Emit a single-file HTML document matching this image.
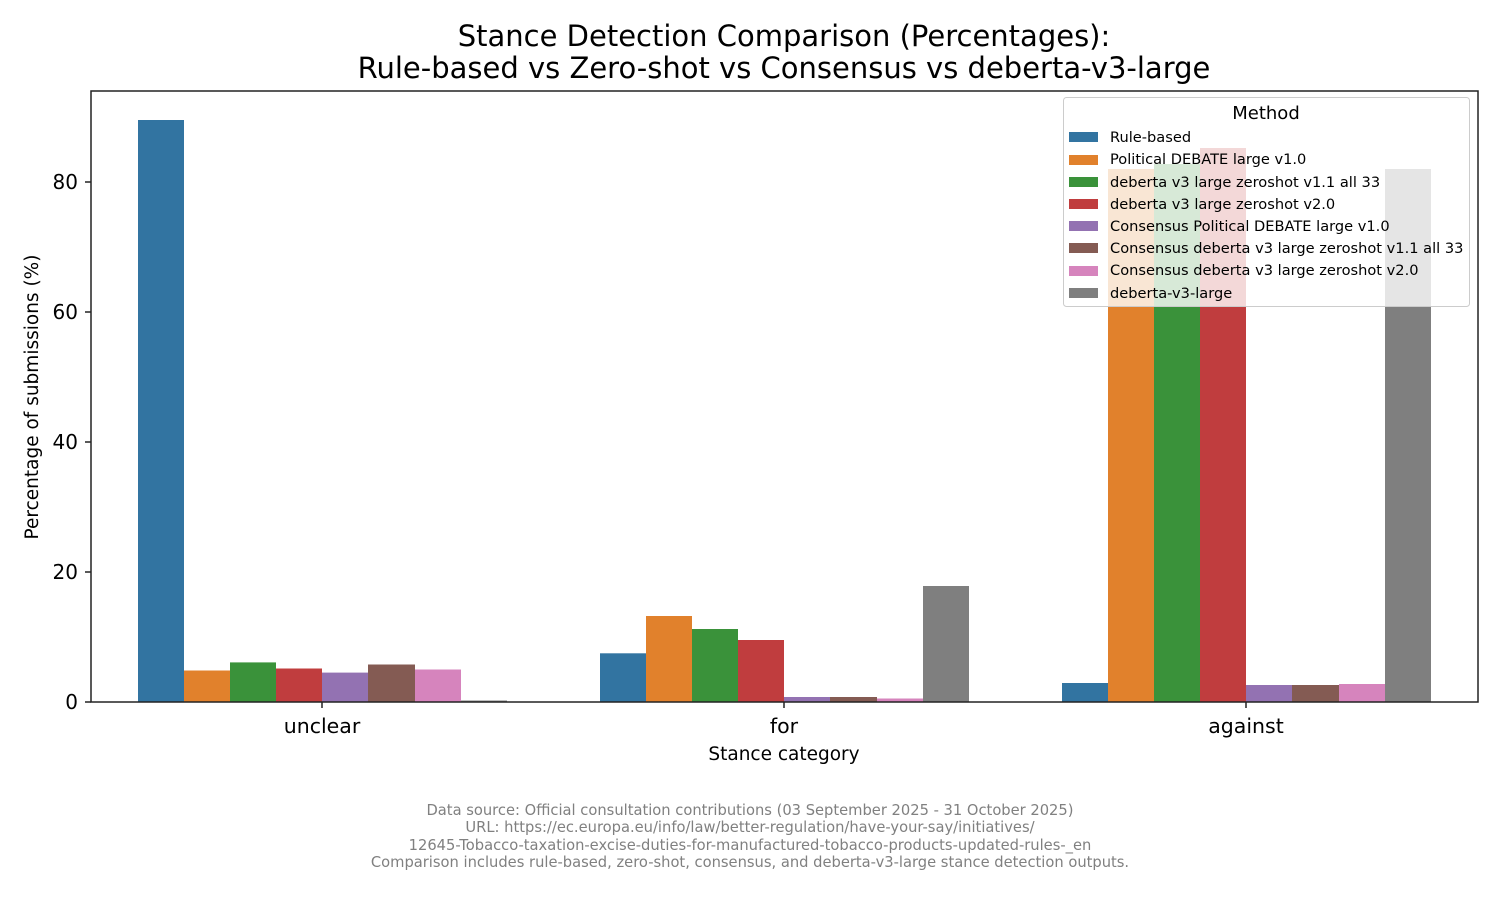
<!DOCTYPE html>
<html><head><meta charset="utf-8"><style>body{margin:0;background:#fff}svg{display:block}</style></head><body>
<svg width="1500" height="900" xmlns="http://www.w3.org/2000/svg" font-family="'DejaVu Sans','Liberation Sans',sans-serif">
<rect width="1500" height="900" fill="#fff"/>
<text x="784" y="46" font-size="29" text-anchor="middle" fill="#000">Stance Detection Comparison (Percentages):</text>
<text x="784" y="78" font-size="29" text-anchor="middle" fill="#000">Rule-based vs Zero-shot vs Consensus vs deberta-v3-large</text>
<g id="bars">
<rect x="138" y="120" width="46" height="582" fill="#3274a1"/>
<rect x="184" y="670.5" width="46" height="31.5" fill="#e1812c"/>
<rect x="230" y="662.4" width="46" height="39.6" fill="#3a923a"/>
<rect x="276" y="668.5" width="46" height="33.5" fill="#c03d3e"/>
<rect x="322" y="672.6" width="46" height="29.4" fill="#9372b2"/>
<rect x="368" y="664.5" width="47" height="37.5" fill="#845b53"/>
<rect x="415" y="669.5" width="46" height="32.5" fill="#d684bd"/>
<rect x="461" y="700.5" width="46" height="1.5" fill="#7f7f7f"/>
<rect x="600" y="653.3" width="46" height="48.7" fill="#3274a1"/>
<rect x="646" y="616" width="46" height="86" fill="#e1812c"/>
<rect x="692" y="629" width="46" height="73" fill="#3a923a"/>
<rect x="738" y="640" width="46" height="62" fill="#c03d3e"/>
<rect x="784" y="697" width="46" height="5" fill="#9372b2"/>
<rect x="830" y="697" width="47" height="5" fill="#845b53"/>
<rect x="877" y="698.5" width="46" height="3.5" fill="#d684bd"/>
<rect x="923" y="586" width="46" height="116" fill="#7f7f7f"/>
<rect x="1062" y="683" width="46" height="19" fill="#3274a1"/>
<rect x="1108" y="169" width="46" height="533" fill="#e1812c"/>
<rect x="1154" y="164" width="46" height="538" fill="#3a923a"/>
<rect x="1200" y="148" width="46" height="554" fill="#c03d3e"/>
<rect x="1246" y="685" width="46" height="17" fill="#9372b2"/>
<rect x="1292" y="685" width="47" height="17" fill="#845b53"/>
<rect x="1339" y="684" width="46" height="18" fill="#d684bd"/>
<rect x="1385" y="169" width="46" height="533" fill="#7f7f7f"/>
</g>
<rect x="1063.5" y="97.5" width="406" height="209" rx="3" fill="#fff" fill-opacity="0.8" stroke="#ccc"/>
<text x="1266" y="119" font-size="18" text-anchor="middle">Method</text>
<g font-size="14.6" fill="#000">
<rect x="1069" y="132" width="29" height="10" fill="#3274a1"/><text x="1110" y="142">Rule-based</text>
<rect x="1069" y="155" width="29" height="10" fill="#e1812c"/><text x="1110" y="164">Political DEBATE large v1.0</text>
<rect x="1069" y="177" width="29" height="10" fill="#3a923a"/><text x="1110" y="187">deberta v3 large zeroshot v1.1 all 33</text>
<rect x="1069" y="199" width="29" height="10" fill="#c03d3e"/><text x="1110" y="209">deberta v3 large zeroshot v2.0</text>
<rect x="1069" y="221" width="29" height="10" fill="#9372b2"/><text x="1110" y="231">Consensus Political DEBATE large v1.0</text>
<rect x="1069" y="243" width="29" height="10" fill="#845b53"/><text x="1110" y="253">Consensus deberta v3 large zeroshot v1.1 all 33</text>
<rect x="1069" y="266" width="29" height="10" fill="#d684bd"/><text x="1110" y="275">Consensus deberta v3 large zeroshot v2.0</text>
<rect x="1069" y="288" width="29" height="10" fill="#7f7f7f"/><text x="1110" y="298">deberta-v3-large</text>
</g>
<rect x="91" y="91" width="1387" height="611" fill="none" stroke="#222" stroke-width="1.5"/>
<g stroke="#222" stroke-width="1.5">
<line x1="85" y1="702" x2="91" y2="702"/><line x1="85" y1="572" x2="91" y2="572"/><line x1="85" y1="442" x2="91" y2="442"/><line x1="85" y1="312" x2="91" y2="312"/><line x1="85" y1="182" x2="91" y2="182"/>
<line x1="322" y1="702" x2="322" y2="708"/><line x1="784" y1="702" x2="784" y2="708"/><line x1="1246" y1="702" x2="1246" y2="708"/>
</g>
<g font-size="20" text-anchor="end" fill="#000">
<text x="78" y="709">0</text><text x="78" y="579">20</text><text x="78" y="449">40</text><text x="78" y="319">60</text><text x="78" y="189">80</text>
</g>
<g font-size="20.5" text-anchor="middle" fill="#000">
<text x="322" y="733">unclear</text><text x="784" y="733">for</text><text x="1246" y="733">against</text>
</g>
<text x="784" y="760" font-size="18.5" text-anchor="middle">Stance category</text>
<text transform="translate(38,397) rotate(-90)" font-size="18.5" text-anchor="middle">Percentage of submissions (%)</text>
<g font-size="14.7" fill="#808080" text-anchor="middle">
<text x="750" y="815">Data source: Official consultation contributions (03 September 2025 - 31 October 2025)</text>
<text x="750" y="832">URL: https://ec.europa.eu/info/law/better-regulation/have-your-say/initiatives/</text>
<text x="750" y="850">12645-Tobacco-taxation-excise-duties-for-manufactured-tobacco-products-updated-rules-_en</text>
<text x="750" y="867">Comparison includes rule-based, zero-shot, consensus, and deberta-v3-large stance detection outputs.</text>
</g>
</svg>
</body></html>
